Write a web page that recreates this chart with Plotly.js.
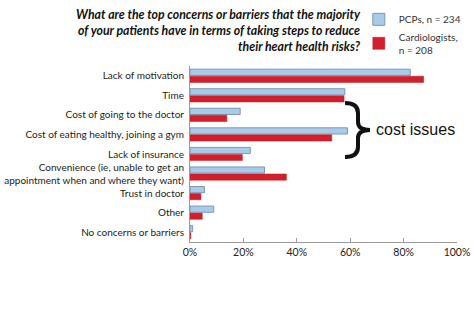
<!DOCTYPE html>
<html>
<head>
<meta charset="utf-8">
<script src="https://cdn.plot.ly/plotly-3.0.1.min.js"></script>
<style>html,body{margin:0;padding:0;background:#fff;}#chart{width:474px;height:322px;}</style>
</head>
<body>
<div id="chart"></div>
<script>
var categories = [
  "Lack of motivation",
  "Time",
  "Cost of going to the doctor",
  "Cost of eating healthy, joining a gym",
  "Lack of insurance",
  "Convenience (ie, unable to get an<br>appointment when and where they want)",
  "Trust in doctor",
  "Other",
  "No concerns or barriers"
];
var pcpValues = [82.5, 58, 18.8, 59, 22.6, 27.9, 5.4, 8.9, 1.0];
var cardioValues = [87.5, 57.7, 13.8, 53.1, 19.6, 36.1, 4.1, 4.6, 0.3];
var seriesNames = ["PCPs, n = 234", "Cardiologists,<br>n = 208"];
var tickValues = [0, 20, 40, 60, 80, 100];
var tickLabels = ["0%", "20%", "40%", "60%", "80%", "100%"];
var titleText = "What are the top concerns or barriers that the majority<br>of your patients have in terms of taking steps to reduce<br>their heart health risks?";

var labelFont = "Lato, 'Open Sans', sans-serif";

var traces = [
  {
    type: "bar", orientation: "h", name: seriesNames[0],
    y: categories, x: pcpValues,
    marker: {color: "#a9cbea", line: {color: "#7d97b3", width: 1}},
    hoverinfo: "x+y"
  },
  {
    type: "bar", orientation: "h", name: seriesNames[1],
    y: categories, x: cardioValues,
    marker: {color: "#d21f2b", line: {color: "#c01824", width: 0.5}},
    hoverinfo: "x+y"
  }
];

var layout = {
  width: 474, height: 322,
  margin: {l: 190, r: 17, t: 66, b: 80, pad: 0, autoexpand: false},
  paper_bgcolor: "#fff", plot_bgcolor: "#fff",
  barmode: "group", bargap: 0.28, bargroupgap: 0.12,
  font: {family: labelFont, size: 10, color: "#222"},
  xaxis: {
    range: [0, 100], tickvals: tickValues, ticktext: tickLabels,
    showgrid: false, zeroline: false, showline: true, linecolor: "#9a9a9a", linewidth: 1,
    ticks: "inside", ticklen: 4, tickcolor: "#9a9a9a",
    tickfont: {family: labelFont, size: 10.5, color: "#222"}, fixedrange: true, automargin: false
  },
  yaxis: {
    autorange: "reversed", showgrid: false, zeroline: false,
    showline: true, linecolor: "#9a9a9a", linewidth: 1, ticks: "",
    ticklabelstandoff: 3, automargin: false,
    tickfont: {family: labelFont, size: 10, color: "#222"}, fixedrange: true
  },
  legend: {
    x: 0.757, xanchor: "left", xref: "container",
    y: 0.985, yanchor: "top", yref: "container",
    traceorder: "normal", orientation: "v",
    font: {family: labelFont, size: 10, color: "#333"},
    bgcolor: "rgba(0,0,0,0)", itemwidth: 30, tracegroupgap: 2
  },
  showlegend: true,
  shapes: [
    {
      type: "path", xref: "paper", yref: "paper",
      path: "M 0.5805 0.7898 Q 0.6292 0.7898 0.6292 0.733 L 0.6292 0.6818 Q 0.6292 0.6364 0.6742 0.6364 Q 0.6292 0.6364 0.6292 0.5909 L 0.6292 0.5398 Q 0.6292 0.483 0.5805 0.483",
      line: {color: "#111", width: 4}, fillcolor: "rgba(0,0,0,0)"
    }
  ],
  annotations: [
    {
      text: titleText, xref: "paper", yref: "paper", x: 0.648, y: 1.199,
      xanchor: "right", yanchor: "middle", align: "right", showarrow: false,
      font: {family: labelFont, size: 12.3, color: "#111", weight: "bold", style: "italic"}
    },
    {
      text: "cost issues", xref: "paper", yref: "paper", x: 0.69, y: 0.638,
      xanchor: "left", yanchor: "middle", showarrow: false,
      font: {family: "Liberation Sans, Arial, sans-serif", size: 16, color: "#111"}
    }
  ]
};

Plotly.newPlot("chart", traces, layout, {displayModeBar: false, staticPlot: true});
</script>
</body>
</html>
